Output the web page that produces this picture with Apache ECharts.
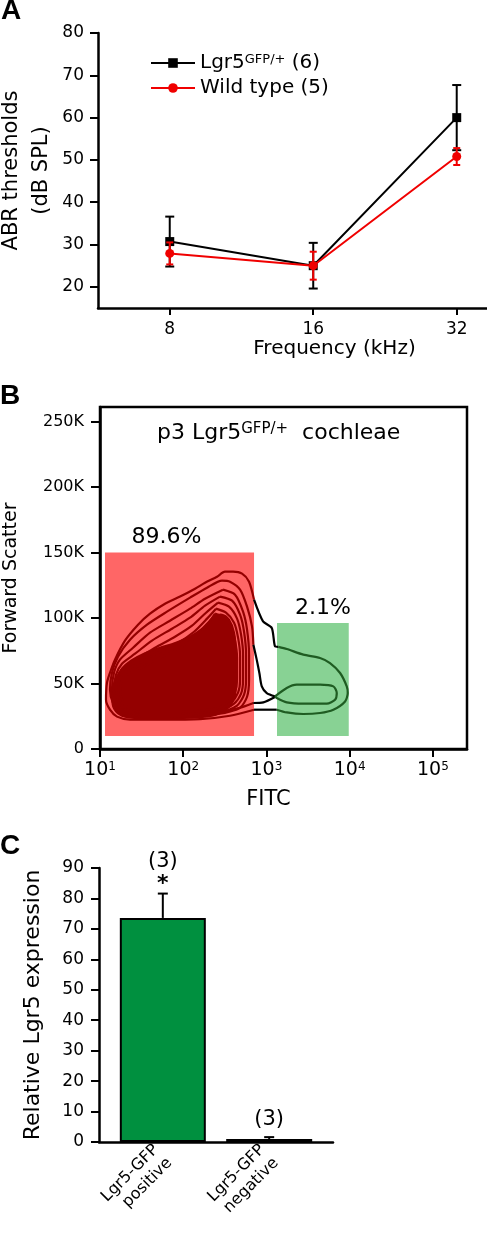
<!DOCTYPE html>
<html><head><meta charset="utf-8">
<script src="https://cdn.jsdelivr.net/npm/echarts@6/dist/echarts.min.js"></script>
<style>html,body{margin:0;padding:0;background:#fff}#c{width:487px;height:1237px}</style>
</head><body><div id="c"></div>
<script>
// ---------- Panel A data ----------
const freqLabels = ['8', '16', '32'];
const lgr5Name = 'Lgr5GFP/+ (6)';
const wtName = 'Wild type (5)';
const lgr5Mean = [30.7, 25.0, 60.0];
const lgr5Err = [5.9, 5.4, 7.7];
const wtMean = [27.9, 25.0, 50.8];
const wtErr = [2.6, 3.3, 2.0];
const abrTicks = [20, 30, 40, 50, 60, 70, 80];

// ---------- Panel B data (FITC in log10 decades, FSC in K) ----------
const fitcDecades = [1, 2, 3, 4, 5];
const fscTicks = [0, 50, 100, 150, 200, 250];
const gateFitc = [[1.06, 2.851], [3.127, 3.989]];
const gateFsc = [[10, 150], [10, 96.2]];
const gatePct = ['89.6%', '2.1%'];
const redContours = [
  [[2.851,114],[2.791,127.7],[2.707,133.8],[2.599,135.3],[2.502,135.3],[2.406,131.5],[2.262,126.9],[2.142,122.3],[1.962,116.3],[1.781,110.9],[1.601,103.3],[1.457,94.9],[1.30,82.7],[1.18,68.2],[1.12,58.2],[1.084,50.6],[1.072,37.6],[1.12,30],[1.204,24.7],[1.361,22.4],[1.721,22.4],[2.202,22.8],[2.562,25.4],[2.851,30]],
  [[2.843,79.6],[2.827,93.4],[2.767,108.6],[2.683,121.6],[2.562,127.7],[2.466,128.5],[2.286,123.1],[2.082,115.5],[1.805,104.8],[1.565,94.9],[1.361,83.4],[1.216,70.5],[1.144,58.2],[1.12,45.3],[1.156,35.3],[1.24,28.5],[1.421,24.7],[1.841,24.7],[2.322,27],[2.683,31.5],[2.843,35.1]],
  [[2.478,121.6],[2.623,117.8],[2.719,104.8],[2.767,91.1],[2.791,72.0],[2.791,52.9],[2.767,39.9],[2.683,31.5],[2.442,27.0],[1.962,25.4],[1.481,25.4],[1.264,28.5],[1.168,35.3],[1.144,45.3],[1.168,58.2],[1.24,68.2],[1.397,77.3],[1.601,88.8],[1.841,97.9],[2.082,107.1],[2.262,114.7],[2.478,121.6]],
  [[2.442,116.3],[2.587,113.2],[2.683,102.5],[2.731,89.5],[2.755,72.0],[2.755,52.9],[2.731,41.5],[2.647,33.1],[2.442,27.7],[1.962,26.2],[1.481,26.2],[1.288,29.2],[1.192,36.1],[1.168,45.3],[1.192,56.7],[1.264,65.1],[1.421,72.7],[1.625,82.7],[1.865,91.8],[2.082,100.2],[2.262,109.4],[2.442,116.3]],
  [[2.418,111.7],[2.55,108.6],[2.647,99.5],[2.695,87.3],[2.719,72.0],[2.719,52.9],[2.695,42.2],[2.611,34.6],[2.442,29.2],[1.962,26.9],[1.481,26.9],[1.30,30.0],[1.216,36.9],[1.192,45.3],[1.216,55.2],[1.288,62.8],[1.445,68.9],[1.661,77.3],[1.901,85.7],[2.106,94.1],[2.274,104.0],[2.418,111.7]],
  [[2.394,107.1],[2.514,104.0],[2.611,96.4],[2.659,85.0],[2.683,71.2],[2.683,52.9],[2.659,43.0],[2.575,35.3],[2.418,30.0],[1.962,27.7],[1.481,27.7],[1.313,30.8],[1.24,37.6],[1.216,45.3],[1.24,53.7],[1.325,60.5],[1.481,65.9],[1.697,73.5],[1.938,81.1],[2.13,89.5],[2.286,99.5],[2.394,107.1]],
  [[2.382,103.3],[2.49,100.2],[2.575,93.4],[2.623,82.7],[2.647,69.7],[2.647,52.9],[2.623,43.7],[2.538,36.1],[2.394,30.8],[1.962,28.5],[1.481,28.5],[1.337,31.5],[1.264,37.6],[1.24,45.3],[1.264,52.1],[1.361,58.2],[1.517,62.8],[1.721,69.7],[1.962,77.3],[2.154,85.7],[2.298,95.6],[2.382,103.3]]
];
const redCore = [[2.370,101.0],[2.466,102.5],[2.550,98.7],[2.611,88.8],[2.635,72.0],[2.635,49.1],[2.611,38.4],[2.526,30.8],[2.346,25.4],[1.962,23.5],[1.481,23.5],[1.264,25.4],[1.168,30.8],[1.144,39.2],[1.156,46.8],[1.192,53.7],[1.264,61.3],[1.373,67.4],[1.529,72.7],[1.721,77.3],[1.913,81.1],[2.082,85.7],[2.214,91.1],[2.310,97.2]];
const blackContours = [
  [[2.851,114],[2.959,97.4],[3.064,92.4],[3.103,78.3],[3.143,77.9]],
  [[2.851,30],[3.124,30]],
  [[2.843,79.6],[2.883,68.2],[2.915,58.0],[2.944,47.8],[3.004,42.7],[3.103,40.2]],
  [[2.843,35.1],[2.963,35.6],[3.103,39.7]]
];
const greenContours = [
  [[3.143,77.9],[3.244,76.3],[3.443,72.0],[3.644,69.5],[3.764,65.6],[3.885,58.0],[3.965,47.8],[3.977,42.7],[3.945,36.3],[3.804,30.0],[3.644,27.5],[3.443,26.7],[3.244,27.9],[3.124,30.0]],
  [[3.103,40.2],[3.244,46.6],[3.364,49.1],[3.644,49.1],[3.804,47.8],[3.845,42.7],[3.825,37.6],[3.725,34.6],[3.443,34.6],[3.244,35.6],[3.124,38.9],[3.103,40.2]]
];

// ---------- Panel C data ----------
const groups = ['Lgr5-GFP\npositive', 'Lgr5-GFP\nnegative'];
const exprMean = [73.6, 1.0];
const exprErr = [8.0, 0.6];
const nLabels = ['(3)', '(3)'];
const sigMarks = ['*', ''];
const exprTicks = [0, 10, 20, 30, 40, 50, 60, 70, 80, 90];

// ---------- styles ----------
const F = 'DejaVu Sans';
const LETTER = {fontFamily: 'Liberation Sans', fontWeight: 'bold', fontSize: 28, color: '#000'};
const RED = '#f00000';
const CONTOUR_RED = '#940000';
const CONTOUR_GREEN = '#1f5c22';
const gateColors = ['#ff6666', '#88d294'];
const pctDx = [-13, 10];
const barColors = ['#00903f', '#8a1414'];

const chart = echarts.init(document.getElementById('c'), null, {renderer: 'canvas', width: 487, height: 1237});

function errBar(color, capW, lw) {
  return function (params, api) {
    const x = api.value(0), y = api.value(1), e = api.value(2);
    const t = api.coord([x, y + e]), b = api.coord([x, y - e]);
    const st = {stroke: color, lineWidth: lw};
    return {type: 'group', children: [
      {type: 'line', shape: {x1: t[0], y1: t[1], x2: b[0], y2: b[1]}, style: st},
      {type: 'line', shape: {x1: t[0] - capW / 2, y1: t[1], x2: t[0] + capW / 2, y2: t[1]}, style: st},
      {type: 'line', shape: {x1: b[0] - capW / 2, y1: b[1], x2: b[0] + capW / 2, y2: b[1]}, style: st}
    ]};
  };
}

const series = [];
// Panel A
series.push({type: 'custom', name: 'lgr5Err', xAxisIndex: 0, yAxisIndex: 0, z: 2,
  data: lgr5Mean.map((v, i) => [i, v, lgr5Err[i]]), renderItem: errBar('#000', 9, 2)});
series.push({type: 'line', name: lgr5Name, xAxisIndex: 0, yAxisIndex: 0, z: 3,
  data: lgr5Mean.map((v, i) => [i, v]), symbol: 'rect', symbolSize: 9,
  itemStyle: {color: '#000'}, lineStyle: {color: '#000', width: 2}});
series.push({type: 'custom', name: 'wtErr', xAxisIndex: 0, yAxisIndex: 0, z: 4,
  data: wtMean.map((v, i) => [i, v, wtErr[i]]), renderItem: errBar(RED, 7, 2)});
series.push({type: 'line', name: wtName, xAxisIndex: 0, yAxisIndex: 0, z: 5,
  data: wtMean.map((v, i) => [i, v]), symbol: 'circle', symbolSize: 9,
  itemStyle: {color: RED}, lineStyle: {color: RED, width: 2}});

// Panel B gates
series.push({type: 'custom', xAxisIndex: 1, yAxisIndex: 1, z: 1, silent: true,
  data: gateFitc.map((g, i) => [g[0], g[1], gateFsc[i][0], gateFsc[i][1]]),
  renderItem: function (params, api) {
    const i = params.dataIndex;
    const p1 = api.coord([api.value(0), api.value(3)]);
    const p2 = api.coord([api.value(1), api.value(2)]);
    return {type: 'group', children: [
      {type: 'rect', shape: {x: p1[0], y: p1[1], width: p2[0] - p1[0], height: p2[1] - p1[1]}, style: {fill: gateColors[i]}},
      {type: 'text', style: {text: gatePct[i], x: (p1[0] + p2[0]) / 2 + pctDx[i], y: p1[1] - 4,
        align: 'center', verticalAlign: 'bottom', textAlign: 'center', textVerticalAlign: 'bottom',
        font: '22px "DejaVu Sans"', fill: '#000'}}
    ]};
  }});
// dense core of the red population
series.push({type: 'custom', xAxisIndex: 1, yAxisIndex: 1, z: 2, silent: true,
  data: [redCore[0]],
  renderItem: function (params, api) {
    return {type: 'polygon', shape: {points: redCore.map(p => api.coord(p)), smooth: 0.3},
      style: {fill: CONTOUR_RED, stroke: CONTOUR_RED, lineWidth: 2}};
  }});
function contourSeries(list, color) {
  list.forEach(c => series.push({type: 'line', xAxisIndex: 1, yAxisIndex: 1, z: 3, silent: true,
    data: c, showSymbol: false, symbol: 'none', smooth: 0.25,
    lineStyle: {color: color, width: 2.2}}));
}
contourSeries(redContours, CONTOUR_RED);
contourSeries(blackContours, '#000');
contourSeries(greenContours, CONTOUR_GREEN);

// Panel C
series.push({type: 'bar', xAxisIndex: 2, yAxisIndex: 2, barWidth: 86, z: 2,
  data: exprMean.map((v, i) => ({value: [i, v], itemStyle: {color: barColors[i]}})),
  itemStyle: {borderColor: '#000', borderWidth: 2}});
series.push({type: 'custom', xAxisIndex: 2, yAxisIndex: 2, z: 3,
  data: exprMean.map((v, i) => [i, v, exprErr[i]]),
  renderItem: function (params, api) {
    const i = params.dataIndex;
    const x = api.value(0), y = api.value(1), e = api.value(2);
    const b = api.coord([x, y]), t = api.coord([x, y + e]);
    const st = {stroke: '#000', lineWidth: 2};
    const hasSig = sigMarks[i] !== '';
    const kids = [
      {type: 'line', shape: {x1: b[0], y1: b[1], x2: t[0], y2: t[1]}, style: st},
      {type: 'line', shape: {x1: t[0] - 5, y1: t[1], x2: t[0] + 5, y2: t[1]}, style: st},
      {type: 'text', style: {text: nLabels[i], x: t[0], y: t[1] - (hasSig ? 32 : 18),
        align: 'center', verticalAlign: 'middle', textAlign: 'center', textVerticalAlign: 'middle',
        font: '21px "DejaVu Sans"', fill: '#000'}}
    ];
    if (hasSig) kids.push({type: 'text', style: {text: sigMarks[i], x: t[0], y: t[1] - 9,
      align: 'center', verticalAlign: 'middle', textAlign: 'center', textVerticalAlign: 'middle',
      font: 'bold 22px "DejaVu Sans"', fill: '#000'}});
    return {type: 'group', children: kids};
  }});

const legendText = {};
legendText[lgr5Name] = '{b|Lgr5}{sup|GFP/+}{b| (6)}';
legendText[wtName] = '{b|Wild type (5)}';

const blackLine = {show: true, onZero: false, lineStyle: {color: '#000', width: 2.5}};
const option = {
  animation: false,
  backgroundColor: '#fff',
  textStyle: {fontFamily: F, color: '#000'},
  title: [
    {text: 'A', left: 1, top: -3, padding: 0, textStyle: LETTER},
    {text: 'B', left: 0, top: 382, padding: 0, textStyle: LETTER},
    {text: 'C', left: 0, top: 832, padding: 0, textStyle: LETTER},
    {text: '{b|p3 Lgr5}{sup|GFP/+}{b|  cochleae}', left: 157, top: 422, padding: 0,
      textStyle: {fontWeight: 'normal', rich: {b: {fontFamily: F, fontSize: 22, fontWeight: 'normal', color: '#000', verticalAlign: 'bottom'},
        sup: {fontFamily: F, fontSize: 15, fontWeight: 'normal', color: '#000', verticalAlign: 'top'}}}}
  ],
  legend: {
    data: [lgr5Name, wtName], orient: 'vertical', left: 150, top: 53, padding: 0,
    itemWidth: 44, itemHeight: 12, itemGap: 5,
    formatter: n => legendText[n],
    textStyle: {rich: {b: {fontFamily: F, fontSize: 20, color: '#000', verticalAlign: 'bottom'},
      sup: {fontFamily: F, fontSize: 13, color: '#000', verticalAlign: 'top'}}}
  },
  grid: [
    {left: 98, top: 33, width: 389, height: 275, outerBoundsMode: 'none', containLabel: false},
    {left: 100, top: 407, width: 367, height: 342, show: true, borderColor: '#000', borderWidth: 2.5, outerBoundsMode: 'none', containLabel: false},
    {left: 99, top: 868, width: 234, height: 274, outerBoundsMode: 'none', containLabel: false}
  ],
  xAxis: [
    {gridIndex: 0, type: 'value', min: -0.5, max: 2.211,
      axisLine: blackLine, splitLine: {show: false},
      axisTick: {customValues: [0, 1, 2], length: 7, lineStyle: {color: '#000', width: 2}},
      axisLabel: {customValues: [0, 1, 2], formatter: v => freqLabels[v], fontSize: 17, color: '#000', margin: 13},
      name: 'Frequency (kHz)', nameLocation: 'middle', nameGap: 27,
      nameTextStyle: {fontSize: 20, color: '#000', padding: [0, 0, 0, 84]}},
    {gridIndex: 1, type: 'value', min: 1, max: 5.41,
      axisLine: blackLine, splitLine: {show: false},
      axisTick: {customValues: fitcDecades, length: 8, lineStyle: {color: '#000', width: 2}},
      axisLabel: {customValues: fitcDecades, formatter: v => '{b|10}{sup|' + v + '}', margin: 12,
        rich: {b: {fontFamily: F, fontSize: 19, color: '#000', verticalAlign: 'bottom'},
          sup: {fontFamily: F, fontSize: 12, color: '#000', verticalAlign: 'top'}}},
      name: 'FITC', nameLocation: 'middle', nameGap: 40,
      nameTextStyle: {fontSize: 21, color: '#000', padding: [0, 30, 0, 0]}},
    {gridIndex: 2, type: 'value', min: -0.6, max: 1.6,
      axisLine: blackLine, splitLine: {show: false}, axisTick: {show: false},
      axisLabel: {customValues: [0, 1], formatter: v => groups[v], rotate: 45, fontSize: 16, color: '#000', margin: 12, lineHeight: 19}}
  ],
  yAxis: [
    {gridIndex: 0, type: 'value', min: 15, max: 80,
      axisLine: blackLine, splitLine: {show: false},
      axisTick: {customValues: abrTicks, length: 8, lineStyle: {color: '#000', width: 2}},
      axisLabel: {customValues: abrTicks, fontSize: 17, color: '#000', margin: 14},
      name: 'ABR thresholds\n(dB SPL)', nameLocation: 'middle', nameGap: 41, nameMoveOverlap: false,
      nameTextStyle: {fontSize: 21, color: '#000', lineHeight: 30}},
    {gridIndex: 1, type: 'value', min: 0, max: 261,
      axisLine: blackLine, splitLine: {show: false},
      axisTick: {customValues: fscTicks, length: 9, lineStyle: {color: '#000', width: 2}},
      axisLabel: {customValues: fscTicks, formatter: v => v === 0 ? '0' : v + 'K', fontSize: 16, color: '#000', margin: 16},
      name: 'Forward Scatter', nameLocation: 'middle', nameGap: 79,
      nameTextStyle: {fontSize: 19, color: '#000'}},
    {gridIndex: 2, type: 'value', min: 0, max: 90,
      axisLine: blackLine, splitLine: {show: false},
      axisTick: {customValues: exprTicks, length: 8, lineStyle: {color: '#000', width: 2}},
      axisLabel: {customValues: exprTicks, fontSize: 17, color: '#000', margin: 15},
      name: 'Relative Lgr5 expression', nameLocation: 'middle', nameGap: 55,
      nameTextStyle: {fontSize: 22, color: '#000'}}
  ],
  series: series
};
chart.setOption(option);
</script></body></html>
